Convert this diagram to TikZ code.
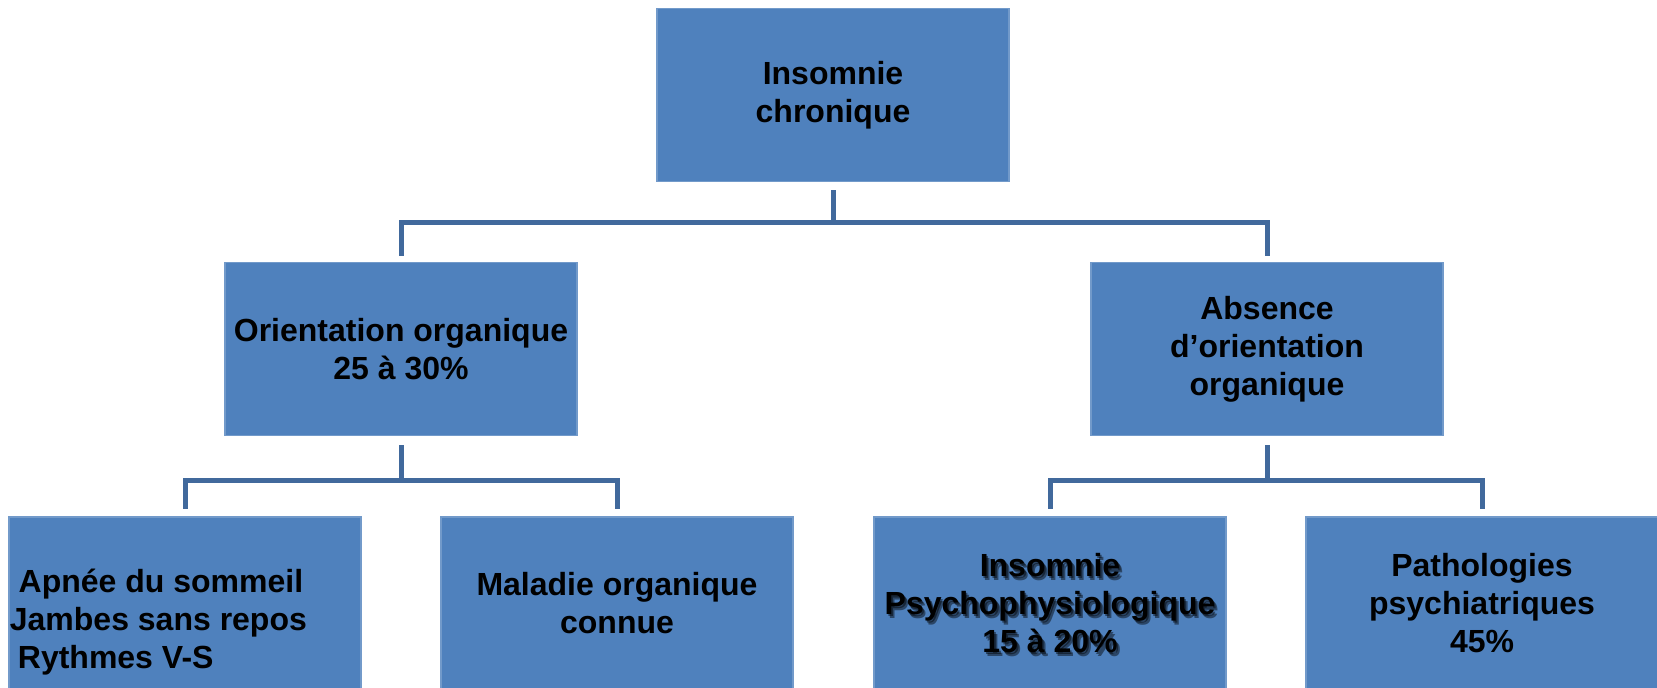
\documentclass[tikz,border=0pt]{standalone}
\usepackage{fontspec}
\setmainfont{Liberation Sans}
\usepackage{xcolor}
\usepackage{tikz}

\definecolor{boxblue}{HTML}{4F81BD}
\definecolor{linkblue}{HTML}{41699C}

\begin{document}
\begin{tikzpicture}[x=0.5pt, y=-0.5pt,
    box/.style={rectangle, fill=boxblue, draw=boxblue!80!white, line width=0.6pt,
        minimum width=176pt, minimum height=86.5pt, inner sep=0pt,
        font=\fontsize{16pt}{19pt}\selectfont\bfseries, align=center},
    txt/.style={inner sep=0pt, font=\fontsize{16pt}{19pt}\selectfont\bfseries},
    link/.style={linkblue, line width=2.5pt}]
    \clip (0,0) rectangle (1657,687);

    \node[box] (top) at (833,95) {Insomnie\\chronique};

    \node[box] (orga) at (401,349) {Orientation organique\\25 à 30\%};
    \node[box] (abs) at (1267,349) {Absence\\d’orientation\\organique};

    \node[box] (apnee) at (185,603.5) {};
    \node[box] (maladie) at (617,603.5) {Maladie organique\\connue};
    \node[box] (psy) at (1050,603.5) {};
    \node[box] (patho) at (1482,603.5) {Pathologies\\psychiatriques\\45\%};

    \node[txt, align=left, anchor=west] (apneetxt) at (9.5,622)
    {\hspace*{4.4pt}Apnée du sommeil\\Jambes sans repos\\\hspace*{4pt}Rythmes V-S};

    \foreach \s in {0.8,1.6}
    \node[txt, align=center, text=black, text opacity=0.45] (psyshadow)
    at ([xshift=\s pt,yshift=-\s pt]psy.center) {Insomnie\\Psychophysiologique\\15 à 20\%};
    \node[txt, align=center] (psytxt) at (psy.center)
    {Insomnie\\Psychophysiologique\\15 à 20\%};

    \draw[link] ([yshift=-4pt]top.south) -- ([yshift=-20pt]top.south) -| ([yshift=3pt]orga.north);
    \draw[link] ([yshift=-20pt]top.south) -| ([yshift=3pt]abs.north);

    \foreach \p/\a/\b in {orga/apnee/maladie, abs/psy/patho} {
        \draw[link] ([yshift=-4.5pt]\p.south) -- ([yshift=-22pt]\p.south) -| ([yshift=3.5pt]\a.north);
        \draw[link] ([yshift=-22pt]\p.south) -| ([yshift=3.5pt]\b.north);
    }
\end{tikzpicture}
\end{document}
